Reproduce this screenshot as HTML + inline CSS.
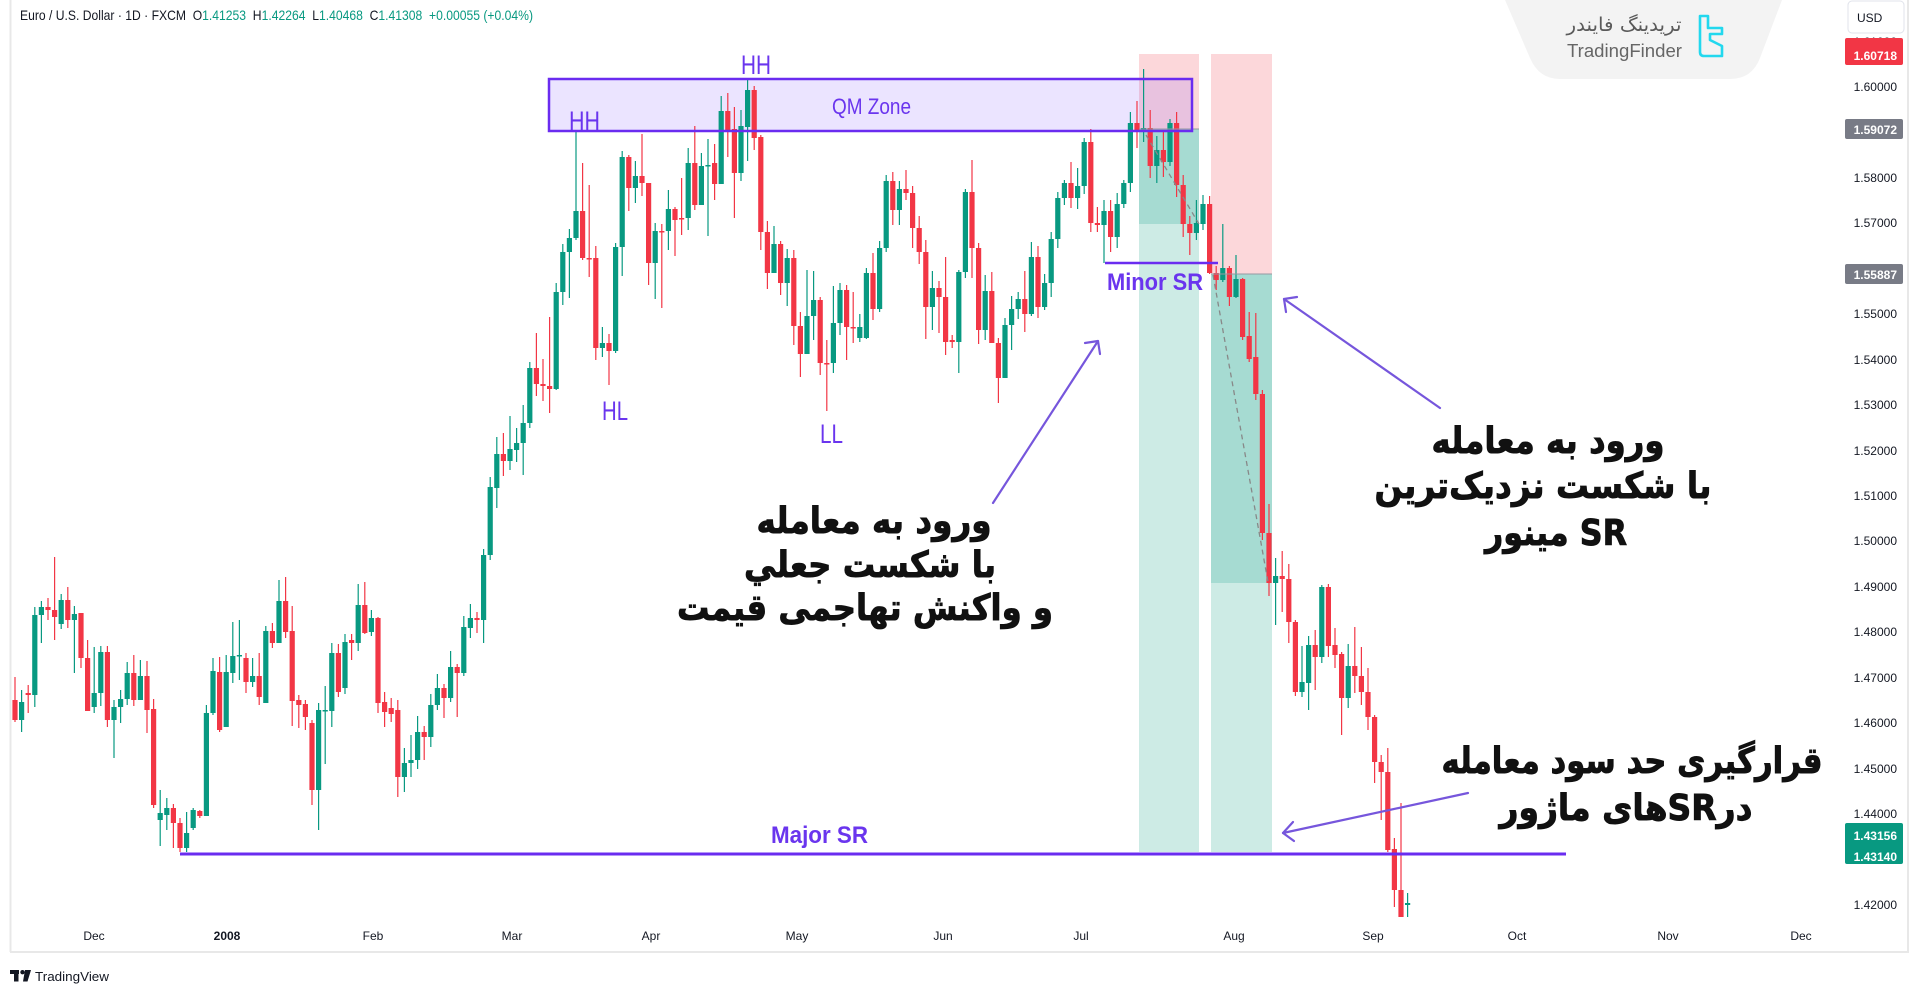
<!DOCTYPE html>
<html><head><meta charset="utf-8">
<style>
html,body{margin:0;padding:0;background:#fff;width:1919px;height:996px;overflow:hidden}
svg{display:block}
text{font-family:"Liberation Sans",sans-serif}
.fa{font-family:"DejaVu Sans","Liberation Sans",sans-serif;font-weight:bold;fill:#111;stroke:#111;stroke-width:0.9px;font-size:36px}
.pl{fill:#6a35ee}
.tk{font-size:12px;fill:#131722}
.tm{font-size:12px;fill:#131722}
</style></head><body>
<svg id="c" width="1919" height="996" viewBox="0 0 1919 996" xmlns="http://www.w3.org/2000/svg">
<!-- frame -->
<line x1="10.5" y1="0" x2="10.5" y2="952" stroke="#e8e8e8" stroke-width="2"/>
<line x1="1908" y1="0" x2="1908" y2="952" stroke="#e8e8e8" stroke-width="2"/>
<line x1="10" y1="952" x2="1909" y2="952" stroke="#e8e8e8" stroke-width="2"/>

<!-- watermark -->
<path d="M1505,0 L1782,0 L1760,58 Q1752,79 1730,79 L1560,79 Q1539,79 1530,58 Z" fill="#f3f3f3"/>
<text x="1624" y="31" text-anchor="middle" direction="rtl" font-size="19" fill="#5a5a5a" textLength="115" lengthAdjust="spacingAndGlyphs" style="font-family:'DejaVu Sans',sans-serif">تریدینگ فایندر</text>
<text x="1567" y="57" font-size="18" fill="#666" textLength="115" lengthAdjust="spacingAndGlyphs">TradingFinder</text>
<path d="M1700,16 V52 Q1700,56 1704,56 H1722 V46 L1710,40 V34 H1722 V28 H1708 V16 Z" fill="none" stroke="#22d8ee" stroke-width="2.6" stroke-linejoin="round"/>

<!-- position boxes -->
<rect x="1139" y="54" width="60" height="75" fill="#fcd7da"/>
<rect x="1139" y="129" width="60" height="723" fill="#cdebe5"/>
<rect x="1139" y="129" width="60" height="95" fill="#a6dbd2"/>
<rect x="1211" y="54" width="61" height="220" fill="#fcd7da"/>
<rect x="1211" y="274" width="61" height="578" fill="#cdebe5"/>
<rect x="1211" y="274" width="61" height="309" fill="#a6dbd2"/>

<!-- QM zone fill -->
<rect x="549" y="79" width="643" height="52" fill="rgba(124,77,255,0.15)"/>

<!-- candles -->
<g id="cd"></g>

<!-- entry lines & dashed -->
<line x1="1139" y1="129" x2="1199" y2="129" stroke="#9598a1" stroke-width="1"/>
<line x1="1211" y1="274" x2="1272" y2="274" stroke="#9598a1" stroke-width="1"/>
<line x1="1146" y1="135" x2="1199" y2="224" stroke="#888" stroke-width="1.3" stroke-dasharray="5 4"/>
<line x1="1213" y1="275" x2="1268" y2="582" stroke="#888" stroke-width="1.3" stroke-dasharray="5 4"/>

<!-- QM border, SR lines -->
<rect x="549" y="79" width="643" height="52" fill="none" stroke="#6a2cf0" stroke-width="2.5"/>
<line x1="1105" y1="263" x2="1218" y2="263" stroke="#6a2cf0" stroke-width="2.5"/>
<line x1="180" y1="854" x2="1566" y2="854" stroke="#6a2cf0" stroke-width="3"/>

<!-- labels -->
<text class="pl" x="569" y="130" font-size="27" textLength="31" lengthAdjust="spacingAndGlyphs">HH</text>
<text class="pl" x="741" y="74" font-size="27" textLength="30" lengthAdjust="spacingAndGlyphs">HH</text>
<text class="pl" x="602" y="420" font-size="27" textLength="26" lengthAdjust="spacingAndGlyphs">HL</text>
<text class="pl" x="820" y="443" font-size="27" textLength="23" lengthAdjust="spacingAndGlyphs">LL</text>
<text class="pl" x="832" y="114" font-size="22" textLength="79" lengthAdjust="spacingAndGlyphs">QM Zone</text>
<text class="pl" x="1107" y="290" font-size="24" font-weight="bold" textLength="96" lengthAdjust="spacingAndGlyphs">Minor SR</text>
<text class="pl" x="771" y="843" font-size="24" font-weight="bold" textLength="97" lengthAdjust="spacingAndGlyphs">Major SR</text>

<!-- arrows -->
<g stroke="#7656dc" stroke-width="2.2" fill="none" stroke-linecap="round" stroke-linejoin="round">
<path d="M993,503 L1098,341"/><path d="M1085,343 L1098,341 L1100,354"/>
<path d="M1440,408 L1284,299"/><path d="M1297,297 L1284,299 L1286,312"/>
<path d="M1468,793 L1283,833"/><path d="M1293,822 L1283,833 L1294,841"/>
</g>

<!-- persian texts -->
<text class="fa" x="874" y="533" text-anchor="middle" direction="rtl" textLength="235" lengthAdjust="spacingAndGlyphs">ورود به معامله</text>
<text class="fa" x="870" y="577" text-anchor="middle" direction="rtl" textLength="252" lengthAdjust="spacingAndGlyphs">با شکست جعلي</text>
<text class="fa" x="865" y="620" text-anchor="middle" direction="rtl" textLength="376" lengthAdjust="spacingAndGlyphs">و واکنش تهاجمی قیمت</text>

<text class="fa" x="1548" y="453" text-anchor="middle" direction="rtl" textLength="233" lengthAdjust="spacingAndGlyphs">ورود به معامله</text>
<text class="fa" x="1543" y="498" text-anchor="middle" direction="rtl" textLength="337" lengthAdjust="spacingAndGlyphs">با شکست نزدیک‌ترین</text>
<text class="fa" x="1556" y="545" text-anchor="middle" direction="rtl" textLength="142" lengthAdjust="spacingAndGlyphs">SR مینور</text>

<text class="fa" x="1632" y="773" text-anchor="middle" direction="rtl" textLength="381" lengthAdjust="spacingAndGlyphs">قرارگیری حد سود معامله</text>
<text class="fa" x="1626" y="820" text-anchor="middle" direction="rtl" textLength="253" lengthAdjust="spacingAndGlyphs">درSRهای ماژور</text>

<!-- price axis ticks -->
<g text-anchor="end">
<text class="tk" x="1897" y="46">1.61000</text>
<text class="tk" x="1897" y="91">1.60000</text>
<text class="tk" x="1897" y="136">1.59000</text>
<text class="tk" x="1897" y="182">1.58000</text>
<text class="tk" x="1897" y="227">1.57000</text>
<text class="tk" x="1897" y="273">1.56000</text>
<text class="tk" x="1897" y="318">1.55000</text>
<text class="tk" x="1897" y="364">1.54000</text>
<text class="tk" x="1897" y="409">1.53000</text>
<text class="tk" x="1897" y="455">1.52000</text>
<text class="tk" x="1897" y="500">1.51000</text>
<text class="tk" x="1897" y="545">1.50000</text>
<text class="tk" x="1897" y="591">1.49000</text>
<text class="tk" x="1897" y="636">1.48000</text>
<text class="tk" x="1897" y="682">1.47000</text>
<text class="tk" x="1897" y="727">1.46000</text>
<text class="tk" x="1897" y="773">1.45000</text>
<text class="tk" x="1897" y="818">1.44000</text>
<text class="tk" x="1897" y="864">1.43000</text>
<text class="tk" x="1897" y="909">1.42000</text>
</g>

<!-- price label boxes -->
<rect x="1845" y="38" width="58" height="27" rx="2" fill="#f23645"/>
<text x="1897" y="60" text-anchor="end" font-size="12" font-weight="bold" fill="#fff">1.60718</text>
<rect x="1845" y="119" width="58" height="20" rx="2" fill="#787b86"/>
<text x="1897" y="134" text-anchor="end" font-size="12" font-weight="bold" fill="#fff">1.59072</text>
<rect x="1845" y="264" width="58" height="20" rx="2" fill="#787b86"/>
<text x="1897" y="279" text-anchor="end" font-size="12" font-weight="bold" fill="#fff">1.55887</text>
<rect x="1845" y="823" width="58" height="41" rx="2" fill="#089981"/>
<text x="1897" y="840" text-anchor="end" font-size="12" font-weight="bold" fill="#fff">1.43156</text>
<text x="1897" y="861" text-anchor="end" font-size="12" font-weight="bold" fill="#fff">1.43140</text>

<!-- USD -->
<rect x="1848" y="1" width="56" height="32" rx="4" fill="#fff" stroke="#e0e3eb" stroke-width="1"/>
<text x="1857" y="22" font-size="12" fill="#131722">USD</text>

<!-- time axis -->
<g text-anchor="middle">
<text class="tm" x="94" y="940">Dec</text>
<text class="tm" x="227" y="940" font-weight="bold">2008</text>
<text class="tm" x="373" y="940">Feb</text>
<text class="tm" x="512" y="940">Mar</text>
<text class="tm" x="651" y="940">Apr</text>
<text class="tm" x="797" y="940">May</text>
<text class="tm" x="943" y="940">Jun</text>
<text class="tm" x="1081" y="940">Jul</text>
<text class="tm" x="1234" y="940">Aug</text>
<text class="tm" x="1373" y="940">Sep</text>
<text class="tm" x="1517" y="940">Oct</text>
<text class="tm" x="1668" y="940">Nov</text>
<text class="tm" x="1801" y="940">Dec</text>
</g>

<!-- header -->
<text x="20" y="20" font-size="14" fill="#131722" textLength="513" lengthAdjust="spacingAndGlyphs">Euro / U.S. Dollar · 1D · FXCM&#160; O<tspan fill="#089981">1.41253</tspan>&#160; H<tspan fill="#089981">1.42264</tspan>&#160; L<tspan fill="#089981">1.40468</tspan>&#160; C<tspan fill="#089981">1.41308</tspan>&#160; <tspan fill="#089981">+0.00055 (+0.04%)</tspan></text>

<!-- footer -->
<rect x="10" y="970" width="9" height="4" fill="#131722"/>
<rect x="14" y="970" width="4.5" height="11.5" fill="#131722"/>
<circle cx="22.5" cy="972.2" r="2.2" fill="#131722"/>
<polygon points="25,970 31,970 27.5,981.5 23,981.5" fill="#131722"/>
<text x="35" y="981" font-size="13" fill="#131722" textLength="74" lengthAdjust="spacingAndGlyphs">TradingView</text>
</svg>
<script>
(function(){
var D=[
[700,720,677,722],[720,702,690,732],[693,695,685,713],[695,615,607,707],[615,607,601,643],[607,610,598,620],[610,617,557,640],[624,600,594,629],[600,620,587,628],[620,614,606,673],
[613,658,613,668],[658,711,640,711],[707,693,647,713],[693,652,646,706],[652,720,646,727],[720,707,700,758],[707,699,690,723],[699,673,662,705],[673,700,655,706],[700,676,660,700],
[676,710,661,733],[709,805,699,808],[820,813,790,846],[815,808,798,830],[808,823,804,848],[823,848,818,852],[848,833,812,852],[828,810,808,830],[811,816,810,818],[816,713,705,816],
[713,671,658,715],[672,730,657,732],[727,672,655,727],[673,656,622,683],[656,655,620,680],[658,682,653,693],[682,676,658,687],[676,697,653,705],[703,631,626,703],[631,643,623,648],
[643,601,580,643],[601,632,577,638],[631,701,606,726],[700,705,695,728],[704,717,700,730],[723,790,720,805],[790,710,703,830],[711,710,686,764],[711,653,643,727],[653,692,644,697],
[688,642,634,694],[640,643,634,660],[643,605,584,651],[605,633,582,634],[632,618,610,636],[618,703,617,713],[702,712,692,727],[708,714,698,722],[710,777,700,797],[777,763,748,792],
[763,760,735,777],[760,732,716,769],[732,737,726,760],[737,705,694,747],[705,688,674,710],[688,698,684,718],[698,667,651,702],[667,673,664,717],[673,627,616,676],[628,618,604,638],
[618,620,612,633],[620,555,549,643],[555,487,477,560],[488,454,437,508],[454,461,433,476],[461,449,416,470],[450,443,428,462],[443,423,405,475],[423,368,362,428],[368,384,333,396],
[384,386,359,401],[386,389,317,413],[389,292,283,390],[292,252,244,305],[252,238,229,298],[238,211,130,240],[211,258,163,260],[258,259,185,277],[258,348,246,360],[348,343,327,357],
[343,351,334,385],[351,247,243,353],[247,157,151,276],[157,188,155,211],[188,176,161,203],[176,183,134,196],[183,263,183,285],[263,231,223,299],[231,232,224,308],[231,209,190,250],
[209,220,207,256],[218,219,178,235],[218,163,148,230],[163,205,126,210],[205,166,153,205],[166,165,139,236],[163,184,144,200],[184,111,96,184],[111,130,93,157],[129,173,107,218],
[173,126,110,181],[127,90,78,161],[90,138,86,150],[137,232,135,250],[232,273,221,289],[273,244,226,273],[244,283,241,295],[283,258,249,306],[258,326,250,345],[326,354,312,377],
[354,316,270,354],[316,300,271,340],[300,363,297,375],[363,364,340,411],[363,323,286,373],[323,290,283,335],[290,327,285,360],[327,328,292,343],[338,327,314,342],[338,273,268,339],
[273,309,253,320],[309,248,241,312],[248,181,175,252],[181,210,172,225],[210,189,181,225],[189,193,170,200],[193,228,186,248],[228,252,216,264],[252,307,240,339],[307,288,271,330],
[288,297,281,333],[297,342,257,355],[340,342,335,348],[342,272,270,373],[272,192,189,278],[192,248,160,278],[248,330,243,344],[330,291,275,340],[291,343,272,343],[343,378,338,403],
[378,325,318,378],[325,309,296,350],[309,299,292,319],[299,314,271,332],[314,257,242,316],[257,307,246,318],[307,283,274,310],[283,239,232,297],[239,198,192,248],[198,183,180,205],
[183,198,162,208],[198,186,168,209],[186,142,138,194],[142,223,129,232],[223,225,207,232],[225,211,200,263],[211,237,200,252],[237,204,193,248],[204,183,180,208],[183,123,112,192],
[123,131,101,148],[131,128,69,142],[128,166,110,178],[166,150,136,183],[150,162,132,177],[162,123,119,166],[123,185,112,197],[185,224,175,237],[224,233,216,255],[233,223,200,240],
[224,204,195,230],[204,273,196,274],[273,280,266,290],[280,268,224,282],[268,297,266,306],[297,279,255,298],[279,337,278,340],[336,359,312,362],[357,394,313,400],[394,533,390,540],
[533,583,504,596],[583,576,558,625],[576,579,551,612],[579,622,564,643],[622,692,620,696],[692,682,646,697],[683,645,636,710],[645,657,630,690],[657,587,585,663],[587,646,584,657],
[645,655,628,668],[654,698,652,735],[698,666,644,708],[666,676,627,693],[676,692,647,705],[692,717,668,730],[717,762,715,783],[762,772,755,820],[772,850,748,852],[849,890,838,907],
[890,917,803,917],[905,903,893,917]
];
var ns="http://www.w3.org/2000/svg",g=document.getElementById("cd");
for(var i=0;i<D.length;i++){
 var d=D[i],x=15+6.6*i,o=d[0],c=d[1];
 var col=(c<o)?"#089981":"#f23645";
 var t=Math.min(o,c),b=Math.max(o,c);if(b-t<1.5)b=t+1.5;
 var h=Math.min(d[2],t),l=Math.max(d[3],b);
 var ln=document.createElementNS(ns,"line");
 ln.setAttribute("x1",x);ln.setAttribute("x2",x);ln.setAttribute("y1",h);ln.setAttribute("y2",l);
 ln.setAttribute("stroke",col);ln.setAttribute("stroke-width","1.2");g.appendChild(ln);
 var r=document.createElementNS(ns,"rect");
 r.setAttribute("x",x-2.6);r.setAttribute("y",t);r.setAttribute("width","5.2");r.setAttribute("height",b-t);
 r.setAttribute("fill",col);g.appendChild(r);
}
})();
</script>
</body></html>
